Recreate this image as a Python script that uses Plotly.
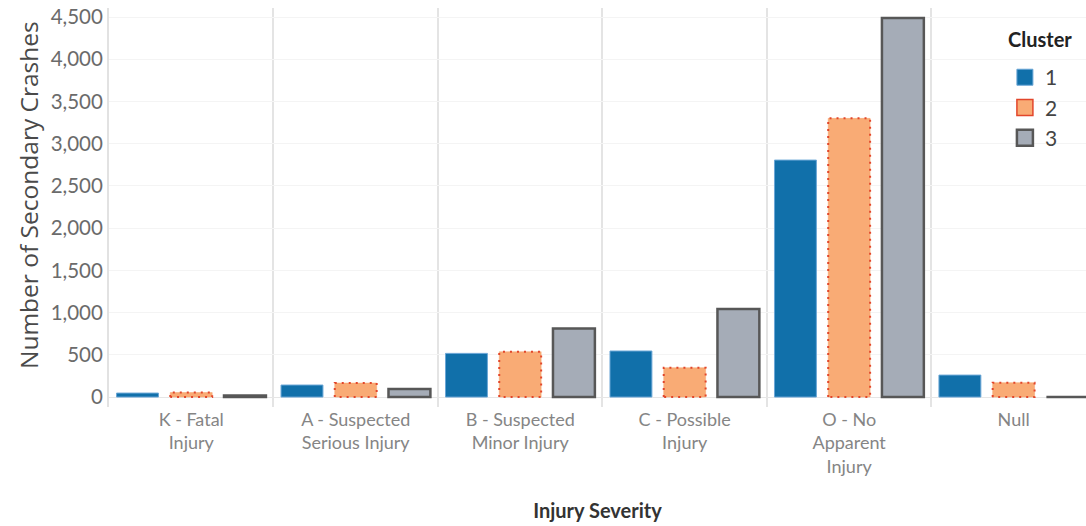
import plotly.graph_objects as go

# ---- data ----
categories = ["K - Fatal<br>Injury", "A - Suspected<br>Serious Injury",
              "B - Suspected<br>Minor Injury", "C - Possible<br>Injury",
              "O - No<br>Apparent<br>Injury", "Null"]
cluster_names = ["1", "2", "3"]
cluster1 = [47, 142, 517, 545, 2806, 260]
cluster2 = [53, 166, 536, 347, 3300, 170]
cluster3 = [18, 95, 813, 1042, 4490, 0]
y_ticks = [0, 500, 1000, 1500, 2000, 2500, 3000, 3500, 4000, 4500]

# ---- styling ----
BARGAP = 0.02
GROUPGAP = 0.22
FONT = "Lato"
x_idx = list(range(len(categories)))
slot = (1 - BARGAP) / 3
bw = slot * (1 - GROUPGAP)

fills = ["#1170aa", "#f9ab75", "#a5acb7"]
edges = ["#6aa6d6", "#e2462b", "#575757"]

fig = go.Figure()
fig.add_trace(go.Bar(name=cluster_names[0], x=x_idx, y=cluster1, showlegend=False,
                     marker=dict(color=fills[0], line=dict(color=edges[0], width=1))))
fig.add_trace(go.Bar(name=cluster_names[1], x=x_idx, y=cluster2, showlegend=False,
                     marker=dict(color=fills[1], line=dict(color="#f4a26a", width=0.5))))
fig.add_trace(go.Bar(name=cluster_names[2], x=x_idx, y=cluster3, showlegend=False,
                     marker=dict(color=fills[2], line=dict(color=edges[2], width=2.5))))

# dotted outline for cluster 2 bars (centre bar of each group)
ox, oy = [], []
for i, v in zip(x_idx, cluster2):
    ox += [i - bw / 2, i - bw / 2, i + bw / 2, i + bw / 2, i - bw / 2, None]
    oy += [0, v, v, 0, 0, None]
fig.add_trace(go.Scatter(x=ox, y=oy, mode="lines", showlegend=False, hoverinfo="skip",
                         line=dict(color="#e2462b", width=2, dash="2px,5px")))

# legend entries with larger square swatches
line_w = [1, 1.5, 2.5]
for name, f, e, lw in zip(cluster_names, fills, edges, line_w):
    fig.add_trace(go.Scatter(x=[None], y=[None], mode="markers", name=name,
                             marker=dict(symbol="square", size=16, color=f,
                                         line=dict(color=e, width=lw))))

fig.update_layout(
    width=1086, height=526,
    margin=dict(l=109, r=0, t=8, b=119),
    paper_bgcolor="white", plot_bgcolor="white",
    barmode="group", bargap=BARGAP, bargroupgap=GROUPGAP,
    font=dict(family=FONT, color="#666666"),
    legend=dict(font=dict(size=21, color="#444444"),
                x=0.917, y=0.877, xanchor="left", yanchor="top",
                bgcolor="rgba(255,255,255,0)", tracegroupgap=4),
    annotations=[
        dict(text="Number of Secondary Crashes", textangle=-90,
             xref="paper", yref="paper", x=-0.083, y=0.531,
             xanchor="center", yanchor="middle", showarrow=False,
             font=dict(family="Open Sans", size=24.5, color="#4a4a4a")),
        dict(text="<b>Cluster</b>", xref="paper", yref="paper", x=0.9534, y=0.922,
             xanchor="center", yanchor="middle", showarrow=False,
             font=dict(size=20, color="#222222")),
    ],
)
fig.update_xaxes(
    automargin=False,
    range=[-0.5, 5.44], tickmode="array", tickvals=x_idx, ticktext=categories,
    showgrid=False, zeroline=False, showline=False, ticks="",
    tickfont=dict(size=18, color="#858585"),
    minor=dict(tickmode="array", tickvals=[0.5, 1.5, 2.5, 3.5, 4.5], showgrid=True,
               gridcolor="#e4e4e4", gridwidth=2, ticks=""),
    title=dict(text="<b>Injury Severity</b>", font=dict(size=20, color="#333333"), standoff=28),
)
fig.update_yaxes(
    automargin=False, ticklabeloverflow="allow",
    range=[-118, 4607], tickmode="array", tickvals=y_ticks, tickformat=",",
    showgrid=True, gridcolor="#f4f4f4", gridwidth=1,
    zeroline=True, zerolinecolor="#e6e6e6", zerolinewidth=1,
    showline=True, linecolor="#e2e2e2", linewidth=2,
    ticks="", tickfont=dict(size=20.5, color="#6b6b6b"),
)

fig.write_html("out.html", config={"displayModeBar": False},
               post_script="document.body.style.margin='0';")
